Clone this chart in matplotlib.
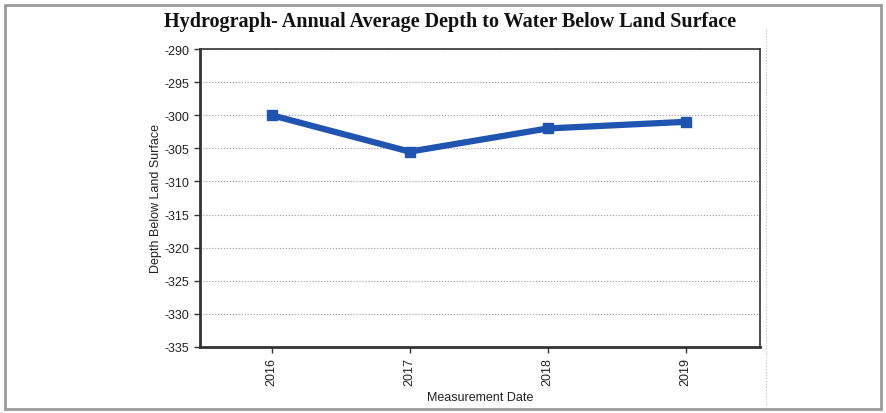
import matplotlib
matplotlib.use("Agg")
import matplotlib.pyplot as plt
from matplotlib.patches import Rectangle
from matplotlib.lines import Line2D

plt.rcParams["font.family"] = ["Liberation Sans", "DejaVu Sans"]

years = ["2016", "2017", "2018", "2019"]
depth = [-300.0, -305.5, -302.0, -301.0]
yticks = [-290, -295, -300, -305, -310, -315, -320, -325, -330, -335]

fig = plt.figure(figsize=(8.86, 4.14), dpi=100)
fig.patch.set_facecolor("white")

# outer frame
fig.add_artist(Rectangle((0.006, 0.01), 0.988, 0.975, transform=fig.transFigure,
                         fill=False, edgecolor="#9a9a9a", linewidth=2.0))
# right dotted divider
fig.add_artist(Line2D([0.864, 0.864], [0.02, 0.93], transform=fig.transFigure,
                      color="#bbbbbb", linewidth=0.8, linestyle=":"))

ax = fig.add_axes([200/886, 1-348/414, 560/886, 298/414])
x = list(range(len(years)))
ax.plot(x, depth, color="#1f55b0", linewidth=4.5, marker="s", markersize=7,
        solid_joinstyle="round")
ax.set_xlim(-0.52, 3.54)
ax.set_ylim(-335, -290)
ax.set_yticks(yticks)
ax.set_yticklabels([str(t) for t in yticks], fontsize=9, color="#222222")
ax.set_xticks(x)
ax.set_xticklabels(years, rotation=90, fontsize=9, color="#222222")
ax.yaxis.grid(True, color="#999999", linestyle=":", linewidth=0.8)
ax.set_axisbelow(True)
for s in ax.spines.values():
    s.set_color("#333333")
    s.set_linewidth(1.2)
ax.spines["left"].set_linewidth(2)
ax.spines["bottom"].set_linewidth(2)
ax.tick_params(axis="both", length=4, width=1, color="#333333")
ax.set_ylabel("Depth Below Land Surface", fontsize=9, labelpad=2, color="#222222")
ax.set_xlabel("Measurement Date", fontsize=9, labelpad=4, color="#222222")

fig.text(450/886, 1-22/414, "Hydrograph- Annual Average Depth to Water Below Land Surface",
         ha="center", va="center", fontsize=14.5, fontweight="bold",
         family="Liberation Serif", color="#111111")

fig.savefig("out.png", dpi=100)
